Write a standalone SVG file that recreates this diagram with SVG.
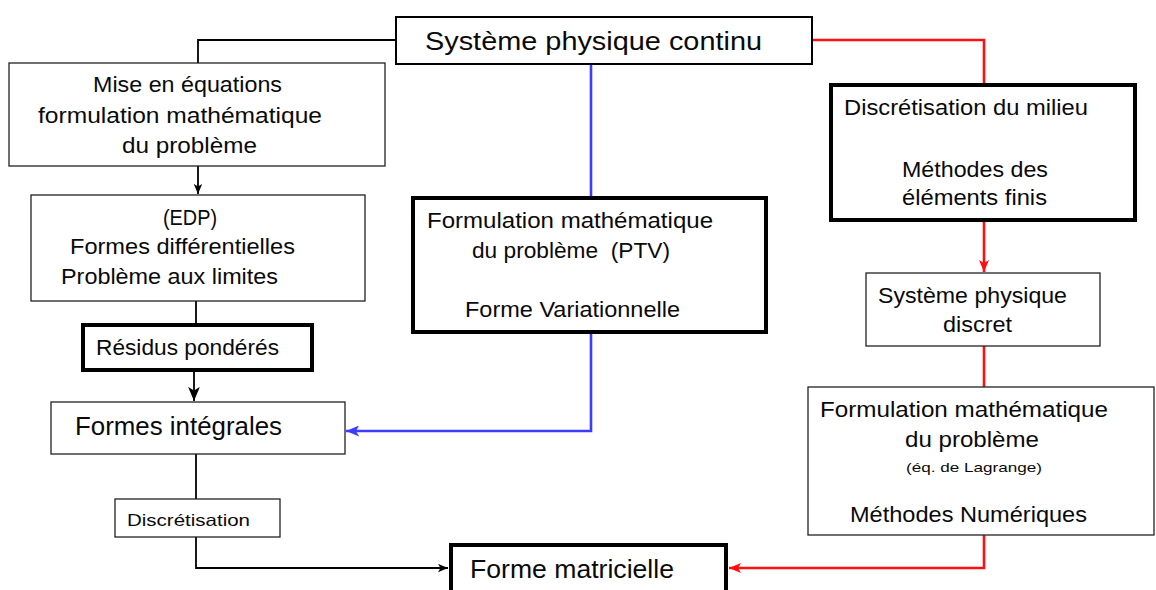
<svg xmlns="http://www.w3.org/2000/svg" width="1156" height="590" viewBox="0 0 1156 590">
<defs>
<style>
text{font-family:"Liberation Sans",Arial,sans-serif;fill:#0a0a0a}
.thin{fill:#fff;stroke:#222;stroke-width:1.3}
.thick{fill:#fff;stroke:#000;stroke-width:4}
.mid{fill:#fff;stroke:#000;stroke-width:2}
.ck{fill:none;stroke:#000;stroke-width:1.8}
.cb{fill:none;stroke:#3c3cff;stroke-width:2.6}
.cr{fill:none;stroke:#ff1010;stroke-width:2.6}
</style>
<marker id="ak" viewBox="0 0 12 10" refX="12" refY="5" markerUnits="userSpaceOnUse" markerWidth="10" markerHeight="9" orient="auto"><path d="M0,0 L12,5 L0,10 L3,5 z" fill="#000"/></marker>
<marker id="akb" viewBox="0 0 12 10" refX="12" refY="5" markerUnits="userSpaceOnUse" markerWidth="14" markerHeight="12" orient="auto"><path d="M0,0 L12,5 L0,10 L3,5 z" fill="#000"/></marker>
<marker id="ab" viewBox="0 0 12 10" refX="12" refY="5" markerUnits="userSpaceOnUse" markerWidth="14" markerHeight="11" orient="auto"><path d="M0,0 L12,5 L0,10 L3,5 z" fill="#3c3cff"/></marker>
<marker id="ar" viewBox="0 0 12 10" refX="12" refY="5" markerUnits="userSpaceOnUse" markerWidth="12" markerHeight="10" orient="auto"><path d="M0,0 L12,5 L0,10 L3,5 z" fill="#ff1010"/></marker>
</defs>
<rect width="1156" height="590" fill="#fff"/>
<g id="connectors">
<path class="ck" d="M395,40 H198 V63"/>
<path class="ck" d="M198,166 V194" marker-end="url(#ak)"/>
<path class="ck" d="M196,300 V323"/>
<path class="ck" d="M194,372 V401" marker-end="url(#akb)"/>
<path class="ck" d="M196,454 V499"/>
<path class="ck" d="M196,537 V568 H448" marker-end="url(#ak)"/>
<path class="cb" d="M591,64 V196"/>
<path class="cb" d="M591,334 V431 H346" marker-end="url(#ab)"/>
<path class="cr" d="M812,40 H984 V83"/>
<path class="cr" d="M984,222 V272" marker-end="url(#ar)"/>
<path class="cr" d="M984,346 V387"/>
<path class="cr" d="M984,535 V568 H729" marker-end="url(#ar)"/>
</g>
<g id="n-continu">
<rect class="mid" x="396" y="17" width="416" height="47"/>
<text x="425" y="50" font-size="25.5" textLength="337" lengthAdjust="spacingAndGlyphs">Système physique continu</text>
</g>
<g id="n-mise">
<rect class="thin" x="9" y="63" width="376" height="103"/>
<text x="93" y="92" font-size="21.5" textLength="189" lengthAdjust="spacingAndGlyphs">Mise en équations</text>
<text x="38" y="123" font-size="21.5" textLength="284" lengthAdjust="spacingAndGlyphs">formulation mathématique</text>
<text x="122" y="153" font-size="21.5" textLength="135" lengthAdjust="spacingAndGlyphs">du problème</text>
</g>
<g id="n-edp">
<rect class="thin" x="31" y="195" width="334" height="106"/>
<text x="163" y="225" font-size="21.5" textLength="54" lengthAdjust="spacingAndGlyphs">(EDP)</text>
<text x="70" y="254" font-size="21.5" textLength="225" lengthAdjust="spacingAndGlyphs">Formes différentielles</text>
<text x="61" y="284" font-size="21.5" textLength="217" lengthAdjust="spacingAndGlyphs">Problème aux limites</text>
</g>
<g id="n-residus">
<rect class="thick" x="83" y="325" width="229" height="45"/>
<text x="96" y="355" font-size="21.5" textLength="183" lengthAdjust="spacingAndGlyphs">Résidus pondérés</text>
</g>
<g id="n-integrales">
<rect class="thin" x="51" y="402" width="294" height="52"/>
<text x="75" y="435" font-size="25.5" textLength="207" lengthAdjust="spacingAndGlyphs">Formes intégrales</text>
</g>
<g id="n-discretisation">
<rect class="thin" x="115" y="499" width="165" height="38"/>
<text x="127" y="526" font-size="16.5" textLength="123" lengthAdjust="spacingAndGlyphs">Discrétisation</text>
</g>
<g id="n-ptv">
<rect class="thick" x="413" y="198" width="353" height="134"/>
<text x="427" y="228" font-size="21.5" textLength="286" lengthAdjust="spacingAndGlyphs">Formulation mathématique</text>
<text x="472" y="258" font-size="21.5" textLength="198" lengthAdjust="spacingAndGlyphs" style="white-space:pre">du problème  (PTV)</text>
<text x="465" y="317" font-size="21.5" textLength="215" lengthAdjust="spacingAndGlyphs">Forme Variationnelle</text>
</g>
<g id="n-milieu">
<rect class="thick" x="831" y="85" width="304" height="135"/>
<text x="844" y="115" font-size="21.5" textLength="244" lengthAdjust="spacingAndGlyphs">Discrétisation du milieu</text>
<text x="902" y="177" font-size="21.5" textLength="146" lengthAdjust="spacingAndGlyphs">Méthodes des</text>
<text x="902" y="205" font-size="21.5" textLength="145" lengthAdjust="spacingAndGlyphs">éléments finis</text>
</g>
<g id="n-discret">
<rect class="thin" x="866" y="273" width="234" height="73"/>
<text x="878" y="303" font-size="21.5" textLength="189" lengthAdjust="spacingAndGlyphs">Système physique</text>
<text x="943" y="332" font-size="21.5" textLength="69" lengthAdjust="spacingAndGlyphs">discret</text>
</g>
<g id="n-lagrange">
<rect class="thin" x="808" y="387" width="346" height="148"/>
<text x="820" y="417" font-size="21.5" textLength="288" lengthAdjust="spacingAndGlyphs">Formulation mathématique</text>
<text x="905" y="447" font-size="21.5" textLength="134" lengthAdjust="spacingAndGlyphs">du problème</text>
<text x="906" y="472" font-size="13.5" textLength="136" lengthAdjust="spacingAndGlyphs">(éq. de Lagrange)</text>
<text x="850" y="522" font-size="21.5" textLength="237" lengthAdjust="spacingAndGlyphs">Méthodes Numériques</text>
</g>
<g id="n-matricielle">
<rect class="thick" x="451" y="545" width="275" height="60"/>
<text x="470" y="578" font-size="25.5" textLength="204" lengthAdjust="spacingAndGlyphs">Forme matricielle</text>
</g>
</svg>
